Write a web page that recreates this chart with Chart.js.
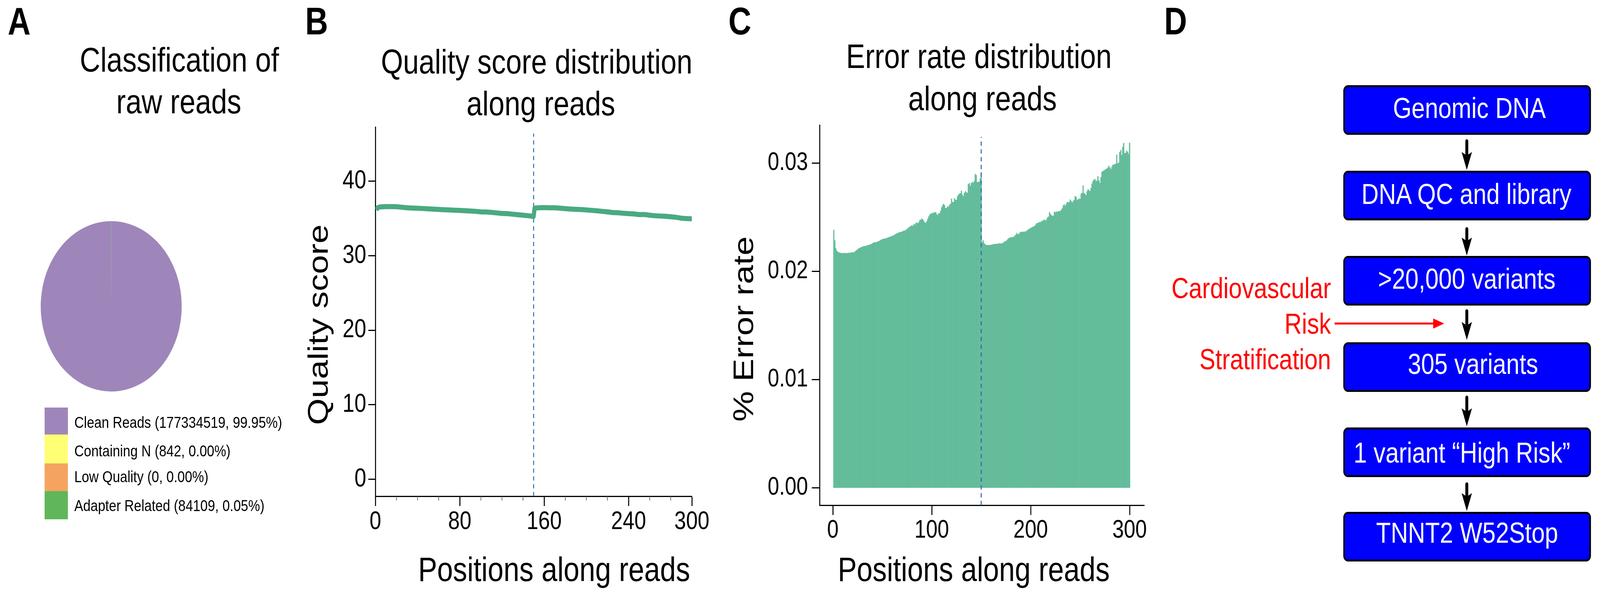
<!DOCTYPE html>
<html>
<head>
<meta charset="utf-8">
<title>Raw reads QC and variant filtering</title>
<script src="https://cdn.jsdelivr.net/npm/chart.js@4"></script>
<style>
  html, body { margin: 0; padding: 0; background: #fff; overflow: hidden; }
  #page { position: absolute; left: 0; top: 0; width: 4949px; height: 1533px; transform-origin: 0 0; }
  canvas { position: absolute; }
  svg { position: absolute; left: 0; top: 0; font-family: "Liberation Sans"; }
</style>
</head>
<body>
<div id="page">
<canvas id="pie" width="488" height="488" style="left:100px;top:540px"></canvas>
<canvas id="quality" width="1180" height="1100" style="left:1040px;top:280px"></canvas>
<canvas id="error" width="1239" height="1133" style="left:2360px;top:270px"></canvas>
<svg id="over" width="4949" height="1533" xmlns="http://www.w3.org/2000/svg"></svg>
</div>
<script>
"use strict"

// layout below is in 4949x1533 units. the browser caps the window width (4096 here),
// so the page is fitted to whatever window it really gets
document.getElementById("page").style.transform =
  "scale(" + (window.innerWidth / 4949) + "," + (window.innerHeight / 1533) + ")"

// panel A
const readClasses = ["Clean Reads", "Containing N", "Low Quality", "Adapter Related"]
const readCounts = [177334519, 842, 0, 84109]
const readPercents = ["99.95", "0.00", "0.00", "0.05"]
const readColors = ["#9e86ba", "#ffff73", "#f4a460", "#5fb65b"]

// panel B, read every 5 positions off the band
const qualityPos = [1, 2, 3, 5, 10, 15, 20, 25, 30, 35, 40, 45, 50, 55, 60, 65, 70, 75, 80, 85, 90, 95, 100,
  105, 110, 115, 120, 125, 130, 135, 140, 145, 150, 151, 155, 160, 165, 170, 175, 180, 185, 190, 195, 200,
  205, 210, 215, 220, 225, 230, 235, 240, 245, 250, 255, 260, 265, 270, 275, 280, 285, 290, 295, 300]
const qualityScore = [36.15, 36.4, 36.5, 36.56, 36.6, 36.6, 36.58, 36.51, 36.44, 36.4, 36.37, 36.34, 36.3, 36.25, 36.22, 36.18, 36.15, 36.11, 36.08, 36.04, 36.01, 35.96, 35.89,
  35.87, 35.82, 35.75, 35.68, 35.65, 35.58, 35.51, 35.44, 35.37, 35.27, 36.4, 36.44, 36.46, 36.44, 36.44, 36.39, 36.32, 36.27, 36.23, 36.2, 36.15,
  36.09, 36.03, 35.96, 35.89, 35.8, 35.77, 35.7, 35.65, 35.61, 35.52, 35.54, 35.44, 35.37, 35.33, 35.3, 35.23, 35.16, 35.04, 34.99, 34.95]
const qualityXTicks = [0, 80, 160, 240, 300]
const qualityXMinor = [20, 40, 60, 100, 120, 140, 180, 200, 220, 260, 280]
const qualityYTicks = [0, 10, 20, 30, 40]

// panel C, one bar per position 1..300
const errorRate = [
  0.02383, 0.02286, 0.02214, 0.02192, 0.02181, 0.02175, 0.02173, 0.02170, 0.02169, 0.02168,
  0.02167, 0.02172, 0.02166, 0.02168, 0.02170, 0.02171, 0.02172, 0.02173, 0.02174, 0.02175,
  0.02176, 0.02180, 0.02188, 0.02195, 0.02203, 0.02211, 0.02215, 0.02220, 0.02224, 0.02228,
  0.02231, 0.02232, 0.02236, 0.02238, 0.02241, 0.02243, 0.02246, 0.02248, 0.02253, 0.02258,
  0.02265, 0.02267, 0.02269, 0.02269, 0.02273, 0.02277, 0.02281, 0.02287, 0.02293, 0.02298,
  0.02299, 0.02302, 0.02304, 0.02304, 0.02309, 0.02313, 0.02317, 0.02320, 0.02324, 0.02327,
  0.02331, 0.02335, 0.02341, 0.02347, 0.02352, 0.02355, 0.02360, 0.02362, 0.02365, 0.02368,
  0.02371, 0.02378, 0.02375, 0.02384, 0.02391, 0.02399, 0.02407, 0.02413, 0.02419, 0.02424,
  0.02420, 0.02437, 0.02431, 0.02447, 0.02450, 0.02444, 0.02456, 0.02475, 0.02478, 0.02487,
  0.02480, 0.02465, 0.02452, 0.02447, 0.02465, 0.02485, 0.02507, 0.02525, 0.02533, 0.02536,
  0.02537, 0.02544, 0.02543, 0.02548, 0.02530, 0.02519, 0.02538, 0.02536, 0.02560, 0.02592,
  0.02612, 0.02623, 0.02610, 0.02585, 0.02585, 0.02600, 0.02598, 0.02614, 0.02625, 0.02672,
  0.02640, 0.02640, 0.02675, 0.02660, 0.02662, 0.02694, 0.02708, 0.02718, 0.02722, 0.02746,
  0.02710, 0.02694, 0.02725, 0.02740, 0.02730, 0.02725, 0.02805, 0.02815, 0.02790, 0.02815,
  0.02825, 0.02820, 0.02835, 0.02899, 0.02890, 0.02825, 0.02825, 0.02830, 0.02860, 0.02916,
  0.02272, 0.02286, 0.02258, 0.02250, 0.02243, 0.02242, 0.02243, 0.02243, 0.02244, 0.02245,
  0.02247, 0.02250, 0.02252, 0.02253, 0.02254, 0.02255, 0.02256, 0.02258, 0.02260, 0.02256,
  0.02258, 0.02263, 0.02270, 0.02276, 0.02280, 0.02289, 0.02300, 0.02307, 0.02312, 0.02314,
  0.02315, 0.02317, 0.02319, 0.02330, 0.02340, 0.02354, 0.02342, 0.02345, 0.02357, 0.02366,
  0.02364, 0.02366, 0.02367, 0.02368, 0.02368, 0.02376, 0.02382, 0.02390, 0.02395, 0.02399,
  0.02406, 0.02410, 0.02416, 0.02418, 0.02432, 0.02445, 0.02444, 0.02452, 0.02454, 0.02456,
  0.02462, 0.02466, 0.02475, 0.02477, 0.02468, 0.02480, 0.02498, 0.02506, 0.02547, 0.02530,
  0.02518, 0.02512, 0.02516, 0.02551, 0.02545, 0.02553, 0.02549, 0.02556, 0.02554, 0.02559,
  0.02570, 0.02585, 0.02609, 0.02618, 0.02605, 0.02625, 0.02641, 0.02638, 0.02640, 0.02664,
  0.02650, 0.02635, 0.02650, 0.02660, 0.02696, 0.02685, 0.02659, 0.02665, 0.02672, 0.02670,
  0.02717, 0.02725, 0.02793, 0.02723, 0.02715, 0.02705, 0.02740, 0.02758, 0.02748, 0.02741,
  0.02770, 0.02811, 0.02835, 0.02848, 0.02852, 0.02834, 0.02838, 0.02879, 0.02840, 0.02817,
  0.02870, 0.02920, 0.02925, 0.02932, 0.02938, 0.02942, 0.02950, 0.02958, 0.02975, 0.02960,
  0.02945, 0.02965, 0.02984, 0.02986, 0.02990, 0.02994, 0.03078, 0.02998, 0.03004, 0.03103,
  0.03121, 0.03074, 0.03150, 0.03185, 0.03092, 0.03095, 0.03115, 0.03105, 0.03086, 0.03188
]
const errorXTicks = [0, 100, 200, 300]
const errorYTicks = [0, 0.01, 0.02, 0.03]

const readEnd = 150 // dashed line, read 1 stops here

// panel D
const flowSteps = ["Genomic DNA", "DNA QC and library", ">20,000 variants", "305 variants", "1 variant \u201cHigh Risk\u201d", "TNNT2 W52Stop"]
const sideNote = ["Cardiovascular", "Risk", "Stratification"]

const FONT = "Liberation Sans"

const minorTicks = {
  id: "minorTicks",
  afterDraw(chart, args, opts) {
    if (!opts.values) return
    const { ctx, scales: { x } } = chart
    ctx.save()
    ctx.strokeStyle = "#555"
    ctx.lineWidth = 2
    opts.values.forEach(v => {
      const px = x.getPixelForValue(v)
      ctx.beginPath()
      ctx.moveTo(px, x.top)
      ctx.lineTo(px, x.top + 11)
      ctx.stroke()
    })
    ctx.restore()
  }
}

function axis(min, max, ticks, size, tickLen, pad, fit, extra) {
  return Object.assign({
    type: "linear",
    min, max,
    offset: false,
    afterBuildTicks: s => { s.ticks = ticks.map(value => ({ value })) },
    afterFit: fit,
    border: { color: "#000", width: 3 },
    grid: { drawOnChartArea: false, drawTicks: true, tickLength: tickLen, tickColor: "#000", tickWidth: 3, offset: false },
    ticks: { autoSkip: false, minRotation: 0, maxRotation: 0, padding: pad, color: "#000", font: { family: FONT, size } }
  }, extra)
}

new Chart("pie", {
  type: "pie",
  data: {
    labels: readClasses,
    datasets: [{ data: readCounts, backgroundColor: readColors, borderWidth: 0 }]
  },
  options: {
    responsive: false, animation: false, devicePixelRatio: 1,
    layout: { padding: 26 },
    plugins: { legend: { display: false }, tooltip: { enabled: false } }
  }
})

new Chart("quality", {
  type: "line",
  plugins: [minorTicks],
  data: {
    datasets: [
      {
        data: qualityPos.map((x, i) => ({ x, y: qualityScore[i] })),
        borderColor: "#49aa80", borderWidth: 13, pointRadius: 0, tension: 0,
        borderJoinStyle: "round", borderCapStyle: "butt"
      },
      {
        data: [{ x: readEnd, y: -2.28 }, { x: readEnd, y: 46.4 }],
        borderColor: "#2f66a8", borderWidth: 3, borderDash: [11, 9], pointRadius: 0
      }
    ]
  },
  options: {
    responsive: false, animation: false, devicePixelRatio: 1,
    layout: { padding: { top: 34, right: 80, left: 0, bottom: 0 } },
    plugins: { legend: { display: false }, tooltip: { enabled: false }, minorTicks: { values: qualityXMinor } },
    scales: {
      x: axis(0, 300, qualityXTicks, 65, 25, 2, s => { s.height = 110 }),
      y: axis(-2.28, 47.25, qualityYTicks, 66, 22, 6, s => { s.width = 121 })
    }
  }
})

new Chart("error", {
  data: {
    datasets: [
      {
        type: "line",
        data: [{ x: readEnd, y: -0.0016 }, { x: readEnd, y: 0.03242 }],
        borderColor: "#2f66a8", borderWidth: 3, borderDash: [11, 9], pointRadius: 0, order: 1
      },
      {
        type: "bar",
        data: errorRate.map((y, i) => ({ x: i + 1, y })),
        backgroundColor: "#64bc9b", borderWidth: 0, barPercentage: 1, categoryPercentage: 1, order: 2
      }
    ]
  },
  options: {
    responsive: false, animation: false, devicePixelRatio: 1,
    layout: { padding: { top: 23, right: 60, left: 0, bottom: 0 } },
    plugins: { legend: { display: false }, tooltip: { enabled: false } },
    scales: {
      x: axis(-13.4, 314.7, errorXTicks, 64, 25, 2, s => { s.height = 110 }),
      y: (() => {
        const y = axis(-0.0016, 0.03351, errorYTicks, 64, 24, 12, s => { s.width = 175 })
        y.ticks.callback = v => v.toFixed(2)
        return y
      })()
    }
  }
})

// texts and the flow chart go in one svg on top
const over = document.getElementById("over")
function add(tag, attrs, txt) {
  const el = document.createElementNS("http://www.w3.org/2000/svg", tag)
  for (const k in attrs) el.setAttribute(k, attrs[k])
  if (txt !== undefined) el.textContent = txt
  over.appendChild(el)
  return el
}
function text(txt, x, y, size, anchor = "middle", fill = "#000", weight = "normal") {
  return add("text", { x, y, "font-size": size, "text-anchor": anchor, fill, "font-weight": weight }, txt)
}

text("A", 24, 88, 98, "start", "#000", "bold")
text("B", 944, 88, 98, "start", "#000", "bold")
text("C", 2253, 88, 98, "start", "#000", "bold")
text("D", 3601, 88, 98, "start", "#000", "bold")

text("Classification of", 555, 183, 88)
text("raw reads", 553, 290, 88)
text("Quality score distribution", 1660, 188, 88)
text("along reads", 1673, 295, 88)
text("Error rate distribution", 3028, 174, 88)
text("along reads", 3039, 282, 88)

text("Positions along reads", 1714, 1487, 88)
text("Positions along reads", 3012, 1487, 88)
text("Quality score", 0, 0, 88).setAttribute("transform", "translate(1014 831) rotate(-90)")
text("% Error rate", 0, 0, 88).setAttribute("transform", "translate(2329 842) rotate(-90)")

// legend of panel A
const legendTops = [1043, 1112, 1186, 1257]
const legendBottoms = [1112, 1186, 1257, 1329]
const legendBase = [1095, 1168, 1234, 1308]
readClasses.forEach((c, i) => {
  add("rect", { x: 138, y: legendTops[i], width: 72, height: legendBottoms[i] - legendTops[i], fill: readColors[i] })
  text(`${c} (${readCounts[i]}, ${readPercents[i]}%)`, 230, legendBase[i], 41, "start")
})

// flow chart
const boxTops = [218, 437, 655, 876, 1094, 1310]
const textX = [4545, 4536, 4537, 4556, 4522, 4538]
const textBase = [302, 522, 739, 957, 1184, 1389]
flowSteps.forEach((s, i) => {
  add("rect", { x: 4157.5, y: boxTops[i] + 2.5, width: 761, height: 122, rx: 12, fill: "#0000ff", stroke: "#000", "stroke-width": 5 })
  text(s, textX[i], textBase[i], 74, "middle", "#fff")
})

const arrowTops = [357, 582, 792, 1013, 1235]
const arrowTips = [435, 654, 870, 1091, 1308]
arrowTops.forEach((top, i) => {
  const tip = arrowTips[i], x = 4537, head = tip - 46
  add("line", { x1: x, y1: top + 4, x2: x, y2: head + 10, stroke: "#000", "stroke-width": 9, "stroke-linecap": "round" })
  add("polygon", { points: `${x - 16},${head} ${x},${head + 9} ${x + 16},${head} ${x},${tip}`, fill: "#000" })
})

const noteBase = [763, 854, 945]
sideNote.forEach((s, i) => text(s, 4117, noteBase[i], 74, "end", "#f00"))
add("line", { x1: 4128, y1: 828, x2: 4440, y2: 828, stroke: "#f00", "stroke-width": 5 })
add("polygon", { points: "4433,815 4467,828 4433,841", fill: "#f00" })
</script>
</body>
</html>
